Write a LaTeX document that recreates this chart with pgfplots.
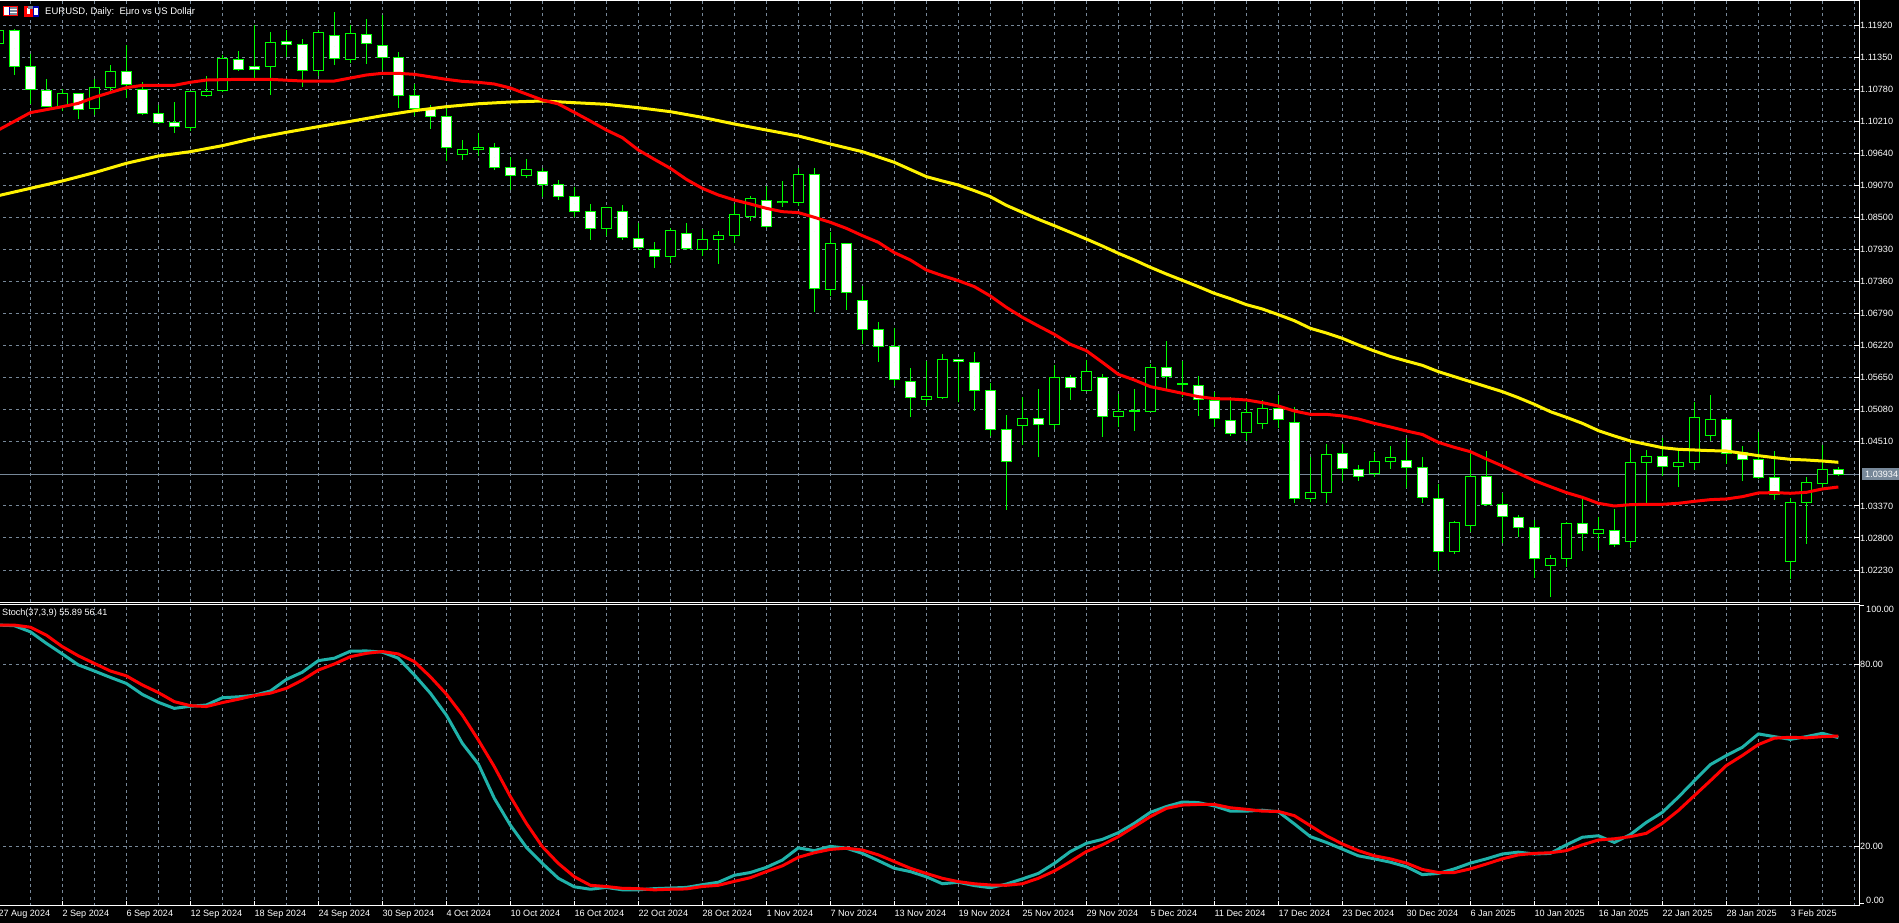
\documentclass[border=0pt]{standalone}
\usepackage{fontspec}
\setmainfont{Liberation Sans}
\usepackage{pgfplots}
\usepackage{pgfplotstable}
\pgfplotsset{compat=1.18}
\definecolor{gridc}{HTML}{778899}
\definecolor{candle}{HTML}{00FF00}
\definecolor{stochmain}{HTML}{20B2AA}
\newcommand{\chartfont}{\fontsize{9.1}{10}\selectfont}

\pgfplotstableread{
k o h l c
-1 1.11595 1.11860 1.11500 1.11825
0 1.11825 1.11843 1.11037 1.11185
1 1.11179 1.11399 1.10510 1.10776
2 1.10759 1.10960 1.10468 1.10468
3 1.10468 1.10782 1.10397 1.10705
4 1.10699 1.10717 1.10255 1.10421
5 1.10439 1.10960 1.10320 1.10812
6 1.10806 1.11203 1.10735 1.11096
7 1.11096 1.11564 1.10628 1.10859
8 1.10776 1.10901 1.10320 1.10350
9 1.10350 1.10498 1.10160 1.10190
10 1.10190 1.10551 1.10006 1.10119
11 1.10101 1.10741 1.10042 1.10741
12 1.10664 1.11013 1.10640 1.10741
13 1.10759 1.11387 1.10729 1.11327
14 1.11310 1.11452 1.11102 1.11132
15 1.11185 1.11914 1.10954 1.11132
16 1.11185 1.11790 1.10676 1.11612
17 1.11630 1.11825 1.11345 1.11576
18 1.11576 1.11665 1.10818 1.11114
19 1.11114 1.11825 1.11013 1.11790
20 1.11736 1.12145 1.11215 1.11327
21 1.11310 1.11926 1.11250 1.11772
22 1.11754 1.12021 1.11227 1.11594
23 1.11559 1.12092 1.11120 1.11351
24 1.11345 1.11434 1.10450 1.10670
25 1.10670 1.10865 1.10302 1.10439
26 1.10439 1.10492 1.10071 1.10296
27 1.10296 1.10439 1.09502 1.09745
28 1.09621 1.09876 1.09520 1.09710
29 1.09710 1.10006 1.09591 1.09745
30 1.09745 1.09816 1.09348 1.09390
31 1.09390 1.09579 1.08993 1.09247
32 1.09247 1.09532 1.09206 1.09354
33 1.09318 1.09372 1.08868 1.09087
34 1.09087 1.09164 1.08815 1.08874
35 1.08874 1.09034 1.08513 1.08607
36 1.08607 1.08732 1.08104 1.08305
37 1.08305 1.08678 1.08163 1.08678
38 1.08607 1.08714 1.08104 1.08145
39 1.08127 1.08406 1.07914 1.07967
40 1.07932 1.08056 1.07606 1.07807
41 1.07807 1.08305 1.07695 1.08270
42 1.08216 1.08394 1.07926 1.07950
43 1.07932 1.08299 1.07819 1.08110
44 1.08110 1.08252 1.07677 1.08181
45 1.08181 1.08732 1.08050 1.08554
46 1.08518 1.08874 1.08441 1.08838
47 1.08803 1.09058 1.08305 1.08341
48 1.08767 1.09147 1.08690 1.08785
49 1.08767 1.09372 1.08696 1.09265
50 1.09265 1.09372 1.06818 1.07238
51 1.07221 1.08234 1.07102 1.08038
52 1.08038 1.08038 1.06853 1.07167
53 1.07025 1.07280 1.06243 1.06510
54 1.06510 1.06634 1.05935 1.06207
55 1.06207 1.06527 1.05502 1.05621
56 1.05585 1.05816 1.04957 1.05300
57 1.05265 1.05952 1.05152 1.05318
58 1.05300 1.06071 1.05271 1.05976
59 1.05976 1.05982 1.05212 1.05940
60 1.05923 1.06106 1.05063 1.05425
61 1.05425 1.05549 1.04613 1.04732
62 1.04732 1.04980 1.03297 1.04163
63 1.04803 1.05312 1.04453 1.04927
64 1.04927 1.05449 1.04246 1.04820
65 1.04820 1.05869 1.04737 1.05656
66 1.05656 1.05692 1.05259 1.05478
67 1.05425 1.05958 1.05425 1.05763
68 1.05656 1.05709 1.04601 1.04963
69 1.04963 1.05354 1.04767 1.05052
70 1.05052 1.05443 1.04708 1.05069
71 1.05052 1.05887 1.05052 1.05834
72 1.05834 1.06296 1.05443 1.05674
73 1.05532 1.05952 1.05312 1.05549
74 1.05514 1.05674 1.04975 1.05265
75 1.05247 1.05401 1.04767 1.04927
76 1.04892 1.05300 1.04619 1.04660
77 1.04678 1.05223 1.04524 1.05034
78 1.04838 1.05253 1.04737 1.05105
79 1.05105 1.05336 1.04749 1.04909
80 1.04856 1.05123 1.03428 1.03505
81 1.03505 1.04246 1.03440 1.03612
82 1.03612 1.04471 1.03428 1.04287
83 1.04305 1.04465 1.03813 1.04038
84 1.04020 1.04092 1.03813 1.03896
85 1.03949 1.04323 1.03884 1.04163
86 1.04156 1.04435 1.04026 1.04234
87 1.04181 1.04572 1.03683 1.04049
88 1.04056 1.04234 1.03416 1.03522
89 1.03505 1.03760 1.02207 1.02563
90 1.02563 1.03096 1.02515 1.03078
91 1.03025 1.04364 1.02906 1.03896
92 1.03896 1.04346 1.03363 1.03398
93 1.03398 1.03594 1.02711 1.03185
94 1.03167 1.03203 1.02817 1.02989
95 1.02989 1.03114 1.02083 1.02438
96 1.02314 1.02491 1.01751 1.02438
97 1.02438 1.03078 1.02284 1.03060
98 1.03060 1.03546 1.02568 1.02883
99 1.02883 1.03173 1.02586 1.02954
100 1.02936 1.03309 1.02640 1.02687
101 1.02740 1.04358 1.02616 1.04145
102 1.04145 1.04364 1.03416 1.04251
103 1.04251 1.04571 1.03896 1.04074
104 1.04074 1.04364 1.03706 1.04145
105 1.04145 1.05217 1.04003 1.04945
106 1.04625 1.05342 1.04518 1.04909
107 1.04909 1.04927 1.04109 1.04305
108 1.04323 1.04435 1.03813 1.04198
109 1.04198 1.04684 1.03854 1.03878
110 1.03878 1.04346 1.03475 1.03576
111 1.02385 1.03505 1.02077 1.03434
112 1.03434 1.03878 1.02693 1.03789
113 1.03771 1.04453 1.03683 1.04020
114 1.04020 1.04056 1.03902 1.03934
}\candles

\pgfplotstableread{
k v
-1 1.10053
1 1.10362
3 1.10468
4 1.10527
5 1.10634
7 1.10806
8 1.10847
10 1.10847
11 1.10901
12 1.10942
14 1.10954
16 1.10954
18 1.10924
20 1.10924
22 1.11031
23 1.11061
24 1.11061
25 1.11043
27 1.10954
28 1.10918
29 1.10901
30 1.10871
31 1.10800
32 1.10693
33 1.10587
34 1.10516
35 1.10367
36 1.10213
37 1.10053
38 1.09917
39 1.09698
40 1.09532
41 1.09372
42 1.09176
43 1.09016
44 1.08898
45 1.08809
46 1.08738
47 1.08661
48 1.08601
49 1.08584
50 1.08501
51 1.08412
52 1.08305
53 1.08175
54 1.08056
55 1.07873
56 1.07742
57 1.07564
58 1.07464
59 1.07375
60 1.07268
61 1.07102
62 1.06900
63 1.06723
64 1.06569
65 1.06420
66 1.06243
67 1.06130
68 1.05923
69 1.05709
70 1.05609
71 1.05490
72 1.05431
73 1.05372
74 1.05312
75 1.05277
76 1.05271
77 1.05253
78 1.05206
79 1.05146
80 1.05057
81 1.04998
82 1.04998
83 1.04969
84 1.04915
85 1.04838
86 1.04773
87 1.04702
88 1.04640
89 1.04500
90 1.04411
91 1.04334
92 1.04204
93 1.04080
94 1.03949
95 1.03819
96 1.03712
97 1.03606
98 1.03522
99 1.03416
100 1.03368
101 1.03392
102 1.03398
103 1.03398
104 1.03416
105 1.03451
106 1.03481
107 1.03493
108 1.03534
109 1.03600
110 1.03606
111 1.03594
112 1.03611
113 1.03671
114 1.03706
}\maFast

\pgfplotstableread{
k v
-1 1.08886
1 1.09016
3 1.09147
5 1.09295
7 1.09461
9 1.09591
11 1.09668
13 1.09775
15 1.09905
17 1.10012
19 1.10113
21 1.10207
23 1.10308
25 1.10397
27 1.10468
29 1.10520
31 1.10551
33 1.10569
35 1.10539
37 1.10510
39 1.10450
41 1.10379
43 1.10278
45 1.10160
47 1.10053
49 1.09947
51 1.09804
53 1.09668
55 1.09478
57 1.09224
58 1.09147
59 1.09075
60 1.08975
61 1.08868
62 1.08714
63 1.08589
64 1.08465
65 1.08352
66 1.08234
67 1.08115
68 1.07991
69 1.07861
70 1.07742
71 1.07612
72 1.07493
73 1.07381
74 1.07268
75 1.07149
76 1.07055
77 1.06948
78 1.06871
79 1.06770
80 1.06663
81 1.06527
82 1.06444
83 1.06349
84 1.06231
85 1.06124
86 1.06026
87 1.05946
88 1.05869
89 1.05757
90 1.05668
91 1.05579
92 1.05490
93 1.05401
94 1.05294
95 1.05176
96 1.05045
97 1.04945
98 1.04838
99 1.04708
100 1.04613
101 1.04524
102 1.04465
103 1.04405
104 1.04376
105 1.04364
106 1.04352
107 1.04346
108 1.04305
109 1.04263
110 1.04228
111 1.04198
112 1.04186
113 1.04168
114 1.04145
}\maSlow

\pgfplotstableread{
k m s
-1 92.9 92.9
0 92.7 92.9
1 90.7 92.2
2 86.9 89.6
3 83.4 85.8
4 79.8 82.8
5 77.8 80.3
6 75.7 77.8
7 73.7 76.2
8 70.1 73.2
9 67.5 70.7
10 65.5 67.7
11 66.2 66.4
12 66.6 66.1
13 69.0 67.4
14 69.3 68.5
15 69.8 69.7
16 71.2 70.5
17 75.0 72.1
18 77.4 74.8
19 81.2 78.1
20 82.0 80.1
21 84.3 82.5
22 84.4 83.6
23 84.0 84.2
24 82.0 83.4
25 76.5 80.9
26 70.5 75.9
27 63.3 70.2
28 54.0 63.3
29 47.2 55.1
30 35.9 46.3
31 27.1 36.5
32 19.8 27.7
33 14.5 20.0
34 9.6 14.5
35 6.8 10.1
36 6.0 7.3
37 6.6 6.9
38 5.8 6.3
39 5.8 6.2
40 6.2 5.8
41 6.4 6.0
42 6.6 6.1
43 7.5 6.9
44 8.3 7.3
45 10.6 8.6
46 11.5 9.8
47 13.2 11.8
48 15.6 13.7
49 19.6 16.5
50 18.7 18.0
51 20.1 19.1
52 19.5 19.5
53 17.8 18.9
54 15.4 17.3
55 12.9 15.1
56 11.8 12.9
57 10.1 11.2
58 7.8 9.6
59 8.3 8.5
60 7.2 7.8
61 6.5 7.4
62 7.7 7.3
63 9.4 7.8
64 11.2 9.6
65 14.5 12.0
66 18.4 15.1
67 21.1 18.4
68 22.4 20.6
69 24.6 23.3
70 27.7 26.6
71 31.3 29.9
72 33.2 32.6
73 34.7 33.7
74 34.5 33.9
75 33.4 33.9
76 31.7 32.8
77 31.7 32.3
78 32.0 31.7
79 31.5 31.6
80 27.5 30.2
81 23.3 26.9
82 21.4 23.6
83 19.2 20.9
84 17.0 18.7
85 16.0 17.0
86 14.9 16.0
87 13.4 14.6
88 10.8 12.5
89 11.2 11.5
90 12.7 11.5
91 14.6 12.7
92 16.0 14.3
93 17.6 16.0
94 18.2 17.3
95 17.6 17.8
96 17.8 18.0
97 20.6 18.7
98 23.1 20.6
99 23.6 22.2
100 21.4 22.6
101 24.0 23.3
102 28.0 24.4
103 31.3 27.7
104 36.3 31.9
105 41.7 36.8
106 47.0 41.7
107 50.0 46.7
108 52.7 50.0
109 57.1 53.6
110 56.2 55.7
111 55.3 56.0
112 56.2 55.8
113 57.3 56.2
114 55.89 56.41
}\stoch

\pgfplotsset{
  mt4/.style={
    scale only axis,
    width=1862.27pt,
    xmin=-1.1, xmax=115.29,
    axis line style={white, line width=1pt},
    tick style={white, line width=1pt},
    major tick length=5pt,
    minor tick length=0pt,
    tick label style={font=\chartfont, text=white},
    xmajorgrids, xminorgrids, ymajorgrids,
    major grid style={gridc, line width=1pt, dash pattern=on 3pt off 3.3pt},
    minor grid style={gridc, line width=1pt, dash pattern=on 3pt off 3.3pt},
    xtick={-1,3,...,111},
    minor xtick={1,5,...,113,115},
    xtick pos=bottom,
    ytick pos=right,
    yticklabel pos=right,
    yticklabel style={anchor=west, inner xsep=0pt, xshift=1pt},
  },
  candleerr/.style={
    only marks, mark=*, mark size=0pt, mark options={draw=none, fill=none}, forget plot,
    unbounded coords=discard,
    error bars/.cd, y dir=both, y explicit, error mark=none,
    error bar style={solid, line cap=butt, #1},
  },
}

\begin{document}
\begin{tikzpicture}[x=1pt,y=1pt]
\fill[black] (0,0) rectangle (1899,923);
\useasboundingbox (0,0) rectangle (1899,923);

\begin{axis}[mt4,
  at={(-3.27pt,320.7pt)}, anchor=south west,
  height=601.8pt,
  ymin=1.01656, ymax=1.12356,
  xticklabels={},
  xtick style={draw=none},
  ytick={1.1192,1.1135,1.1078,1.1021,1.0964,1.0907,1.0850,1.0793,1.0736,1.0679,1.0622,1.0565,1.0508,1.0451,1.0337,1.0280,1.0223},
  yticklabels={1.11920,1.11350,1.10780,1.10210,1.09640,1.09070,1.08500,1.07930,1.07360,1.06790,1.06220,1.05650,1.05080,1.04510,1.03370,1.02800,1.02230},
]
% last-price line
\addplot[gridc, line width=1pt, forget plot] coordinates {(-1.1,1.03934) (115.29,1.03934)};
% wicks
\addplot[candleerr={candle, line width=1pt}]
  table[x=k, y=o, y error plus expr={\thisrow{h}-\thisrow{o}}, y error minus expr={\thisrow{o}-\thisrow{l}}] {\candles};
% body outlines
\addplot[candleerr={candle, line width=11pt}]
  table[x=k, y expr={(\thisrow{o}+\thisrow{c})/2}, y error expr={abs(\thisrow{o}-\thisrow{c})/2+0.000089}] {\candles};
% bearish bodies: white
\addplot[candleerr={white, line width=9pt}]
  table[x expr={\thisrow{c}<\thisrow{o} ? \thisrow{k} : nan}, y expr={(\thisrow{o}+\thisrow{c})/2}, y error expr={max(abs(\thisrow{o}-\thisrow{c})/2-0.000089,0)}] {\candles};
% bullish bodies: black
\addplot[candleerr={black, line width=9pt}]
  table[x expr={\thisrow{c}>\thisrow{o} ? \thisrow{k} : nan}, y expr={(\thisrow{o}+\thisrow{c})/2}, y error expr={max(abs(\thisrow{o}-\thisrow{c})/2-0.000089,0)}] {\candles};
% moving averages
\addplot[yellow, line width=3pt, line join=round, no marks] table[x=k, y=v] {\maSlow};
\addplot[red, line width=3pt, line join=round, no marks] table[x=k, y=v] {\maFast};
\end{axis}

\begin{axis}[mt4,
  at={(-3.27pt,17pt)}, anchor=south west,
  height=301.7pt,
  ymin=0.49, ymax=99.74,
  xticklabels={27 Aug 2024,2 Sep 2024,6 Sep 2024,12 Sep 2024,18 Sep 2024,24 Sep 2024,30 Sep 2024,4 Oct 2024,10 Oct 2024,16 Oct 2024,22 Oct 2024,28 Oct 2024,1 Nov 2024,7 Nov 2024,13 Nov 2024,19 Nov 2024,25 Nov 2024,29 Nov 2024,5 Dec 2024,11 Dec 2024,17 Dec 2024,23 Dec 2024,30 Dec 2024,6 Jan 2025,10 Jan 2025,16 Jan 2025,22 Jan 2025,28 Jan 2025,3 Feb 2025},
  xticklabel style={anchor=north west, inner xsep=0pt, inner ysep=0pt, yshift=-4pt},
  ytick={20,80},
  yticklabels={20.00,80.00},
]
\addplot[stochmain, line width=3pt, line join=round, no marks] table[x=k, y=m] {\stoch};
\addplot[red, line width=3pt, line join=round, no marks] table[x=k, y=s] {\stoch};
\end{axis}

% scale end labels of the lower pane, price tag and captions
\draw[white, line width=1pt] (1859,317.3) -- (1864,317.3);
\draw[white, line width=1pt] (1859,19.5) -- (1864,19.5);
\node[anchor=west, inner sep=0pt, text=white, font=\chartfont] at (1866,313.7) {100.00};
\node[anchor=west, inner sep=0pt, text=white, font=\chartfont] at (1866,22.3) {0.00};
\fill[gridc] (1862,442.5) rectangle (1899,454.5);
\node[anchor=west, inner sep=0pt, text=white, font=\chartfont] at (1865,448.7) {1.03934};
\node[anchor=west, inner sep=0pt, text=white, font=\fontsize{9.5}{10}\selectfont] at (45,911.3) {EURUSD, Daily:\ \ Euro vs US Dollar};
\node[anchor=west, inner sep=0pt, text=white, font=\chartfont] at (2,309.5) {Stoch(37,3,9) 55.89 56.41};
% window icons
\fill[red] (3,907) rectangle (18,917);
\fill[white] (4,908) rectangle (17,916);
\fill[blue!70!black] (9,908) rectangle (10,916);
\fill[gridc] (10,908) rectangle (17,916);
\fill[white] (10,910) rectangle (17,911);
\fill[white] (10,913) rectangle (17,914);
\fill[red] (24,906) rectangle (33,917);
\fill[white] (27,909) rectangle (30,915);
\fill[blue!70!black] (33,906) rectangle (39,917);
\fill[gridc] (28,914) rectangle (33,917);
\fill[white] (34,908) rectangle (38,915);
\end{tikzpicture}
\end{document}
